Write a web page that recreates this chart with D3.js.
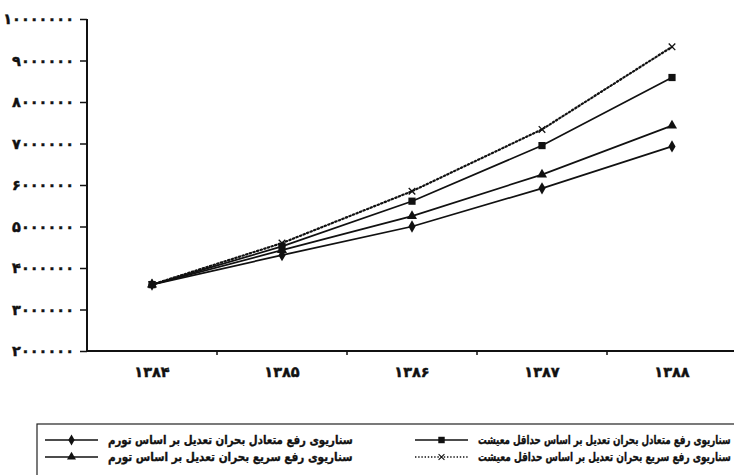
<!DOCTYPE html>
<html>
<head>
<meta charset="utf-8">
<script src="https://cdn.jsdelivr.net/npm/d3@7/dist/d3.min.js"></script>
<style>
  html, body { margin: 0; padding: 0; background: #fff; }
  svg { display: block; }
  text { font-family: "DejaVu Sans", "Noto Sans", sans-serif; font-weight: bold; fill: #111; stroke: #111; stroke-width: 0.45px; }
</style>
</head>
<body>
<svg id="chart" width="734" height="475"></svg>
<script>
// Years on the horizontal axis
const years = ["۱۳۸۴", "۱۳۸۵", "۱۳۸۶", "۱۳۸۷", "۱۳۸۸"];

// Scenario values per year
const balancedInflation = [3600000, 4310000, 5000000, 5920000, 6930000];
const fastInflation     = [3600000, 4430000, 5250000, 6250000, 7430000];
const balancedLiving    = [3600000, 4520000, 5610000, 6950000, 8590000];
const fastLiving        = [3600000, 4600000, 5850000, 7340000, 9330000];

const seriesNames = [
  "سناریوی رفع متعادل بحران تعدیل بر اساس تورم",
  "سناریوی رفع سریع بحران تعدیل بر اساس تورم",
  "سناریوی رفع متعادل بحران تعدیل بر اساس حداقل معیشت",
  "سناریوی رفع سریع بحران تعدیل بر اساس حداقل معیشت"
];

const yTicks = [2000000, 3000000, 4000000, 5000000, 6000000, 7000000, 8000000, 9000000, 10000000];

const series = [
  { name: seriesNames[0], values: balancedInflation, symbol: d3.symbolDiamond, size: 44, dotted: false },
  { name: seriesNames[1], values: fastInflation,     symbol: d3.symbolTriangle, size: 44, dotted: false },
  { name: seriesNames[2], values: balancedLiving,    symbol: d3.symbolSquare,   size: 52, dotted: false },
  { name: seriesNames[3], values: fastLiving,        symbol: d3.symbolX,        size: 30, dotted: true }
];

const persianDigits = "۰۱۲۳۴۵۶۷۸۹";
const toPersian = n => String(n).replace(/\d/g, d => persianDigits[+d]);

const svg = d3.select("#chart");
const plotLeft = 87, plotBottom = 351, plotTop = 19, plotRight = 737;

const x = d3.scaleBand().domain(years).range([plotLeft, plotRight]).padding(0);
const y = d3.scaleLinear().domain([2000000, 10000000]).range([plotBottom, plotTop]);
const cx = d => x(d) + x.bandwidth() / 2;

// Vertical axis
const yAxis = svg.append("g")
  .attr("transform", `translate(${plotLeft},0)`)
  .call(d3.axisLeft(y).tickValues(yTicks).tickSize(7).tickPadding(6).tickFormat(toPersian));
yAxis.select(".domain").attr("stroke", "#111").attr("stroke-width", 2).attr("d", `M0,${plotTop}V${plotBottom}`);
yAxis.selectAll(".tick line").attr("stroke", "#111").attr("stroke-width", 1.5);
yAxis.selectAll(".tick text")
  .style("font-size", "14.5px")
  .style("letter-spacing", "1.2px")
  .attr("direction", "ltr");

// Horizontal axis: labels at band centres, ticks at band edges
const xAxis = svg.append("g")
  .attr("transform", `translate(0,${plotBottom})`)
  .call(d3.axisBottom(x).tickSize(0).tickPadding(16).tickFormat(d => d));
xAxis.select(".domain").attr("stroke", "#111").attr("stroke-width", 2).attr("d", `M${plotLeft},0H734`);
xAxis.selectAll(".tick text").style("font-size", "14.5px");
xAxis.selectAll(".edge").data(years.slice(1)).join("line")
  .attr("x1", d => x(d)).attr("x2", d => x(d))
  .attr("y1", 0).attr("y2", 4)
  .attr("stroke", "#111").attr("stroke-width", 1.5);

// Lines and markers
const line = d3.line().x((v, i) => cx(years[i])).y(v => y(v));
series.forEach(s => {
  svg.append("path")
    .datum(s.values)
    .attr("d", line)
    .attr("fill", "none")
    .attr("stroke", "#111")
    .attr("stroke-width", s.dotted ? 2.2 : 1.7)
    .attr("stroke-dasharray", s.dotted ? "1.4,2.4" : null)
    .attr("stroke-linecap", s.dotted ? "round" : "butt");
  svg.selectAll(null).data(s.values).join("path")
    .attr("transform", (v, i) => `translate(${cx(years[i])},${y(v)})`)
    .attr("d", d3.symbol(s.symbol, s.size))
    .attr("fill", s.symbol === d3.symbolX ? "none" : "#111")
    .attr("stroke", "#111")
    .attr("stroke-width", s.symbol === d3.symbolX ? 1.3 : 0);
});

// Legend
const legend = svg.append("g");
legend.append("rect")
  .attr("x", 37).attr("y", 424).attr("width", 720).attr("height", 80)
  .attr("fill", "none").attr("stroke", "#222").attr("stroke-width", 1.2);

// Each entry: text spans [textLeft, textRight], sample line sits to its left
const legendItems = [
  { s: series[0], textLeft: 108, textRight: 353, row: 0 },
  { s: series[1], textLeft: 108, textRight: 353, row: 1 },
  { s: series[2], textLeft: 478, textRight: 731, row: 0 },
  { s: series[3], textLeft: 478, textRight: 731, row: 1 }
];
legendItems.forEach(it => {
  const yy = 440 + it.row * 17;
  const g = legend.append("g");
  const t = g.append("text")
    .attr("x", 0).attr("y", 0)
    .attr("dy", "0.35em")
    .attr("text-anchor", "start")
    .style("font-size", "12px")
    .style("stroke-width", "0.35px")
    .text(it.s.name);
  // squeeze the label horizontally so it fills its slot
  const natural = t.node().getComputedTextLength();
  const k = (it.textRight - it.textLeft) / natural;
  g.attr("transform", `translate(${it.textLeft},${yy}) scale(${k},1)`);
  const x1 = it.textLeft - 63, x2 = it.textLeft - 10;
  legend.append("line")
    .attr("x1", x1).attr("x2", x2).attr("y1", yy).attr("y2", yy)
    .attr("stroke", "#111")
    .attr("stroke-width", 1.6)
    .attr("stroke-dasharray", it.s.dotted ? "1.4,1.8" : null);
  legend.append("path")
    .attr("transform", `translate(${(x1 + x2) / 2},${yy})`)
    .attr("d", d3.symbol(it.s.symbol, it.s.size * 0.8))
    .attr("fill", it.s.symbol === d3.symbolX ? "none" : "#111")
    .attr("stroke", "#111")
    .attr("stroke-width", it.s.symbol === d3.symbolX ? 1.1 : 0);
});
</script>
</body>
</html>
